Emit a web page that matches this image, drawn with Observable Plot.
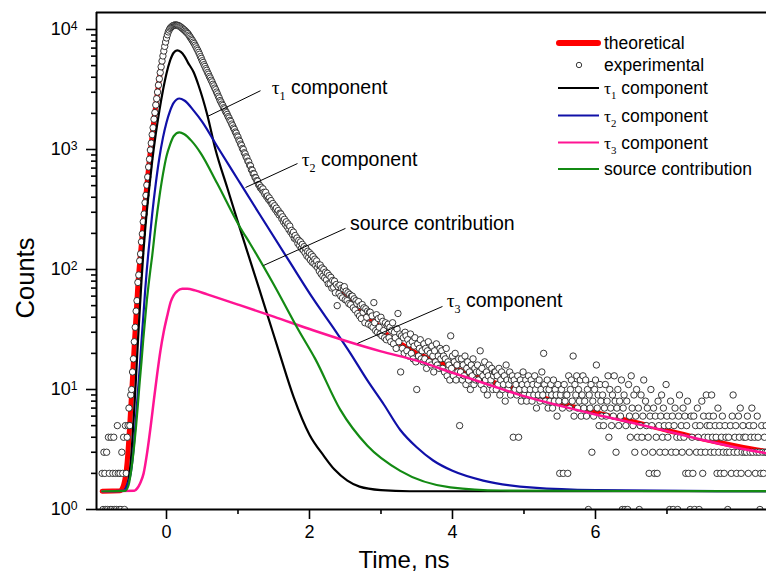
<!DOCTYPE html>
<html><head><meta charset="utf-8">
<script src="https://cdn.jsdelivr.net/npm/d3@7"></script>
<script src="https://cdn.jsdelivr.net/npm/@observablehq/plot@0.6"></script>
<style>
html,body{margin:0;padding:0;background:#fff;}
#chart svg{display:block;}
</style></head><body><div id="chart"></div>
<script>
// ---------- scale / tick data ----------
const xDomain = [-0.979, 8.392];
const yDomain = [1, 13860];
const xMajorTicks = [0, 2, 4, 6];
const xMinorTicks = [1, 3, 5, 7];
const yMajorTicks = [1, 10, 100, 1000, 10000];
const yMinorTicks = [2,3,4,5,6,7,8,9,20,30,40,50,60,70,80,90,200,300,400,500,600,700,800,900,2000,3000,4000,5000,6000,7000,8000,9000];

// ---------- experimental spectrum (counts per channel) ----------
const experimentalStart = -0.9;   // ns, first channel
const channelWidth = 0.0125;      // ns per channel
const experimentalCounts = [
  2,1,3,2,1,3,1,4,2,1,4,1,2,4,1,2,1,5,2,1,
  2,1,3,2,4,1,5,2,4,5,7,5,9,10,14,18,25,33,45,55,
  78,90,118,135,170,198,250,290,360,415,505,590,715,830,990,1130,1330,1520,1790,2030,
  2350,2650,3010,3440,3880,4380,4890,5460,6020,6620,7230,7860,8500,9030,9540,9890,10220,10420,10580,10730,
  10830,10890,10900,10880,10870,10780,10730,10590,10480,10310,10190,10020,9900,9710,9560,9380,9240,8980,8770,8530,
  8310,8100,7860,7650,7400,7170,6910,6700,6450,6220,5950,5740,5490,5310,5090,4920,4720,4570,4380,4240,
  4060,3940,3780,3660,3500,3390,3250,3150,3010,2910,2780,2690,2560,2490,2390,2330,2230,2180,2080,2030,
  1960,1880,1830,1750,1710,1630,1580,1510,1470,1400,1370,1300,1270,1200,1170,1110,1080,1020,1000,940,
  920,870,850,800,790,740,730,680,670,630,625,585,580,550,545,510,505,480,485,460,
  470,440,425,440,405,410,385,395,370,375,350,355,330,340,315,325,300,310,285,295,
  290,265,275,250,262,238,250,228,240,215,230,205,212,195,205,182,192,178,183,165,
  175,158,170,150,162,145,155,138,150,130,142,126,138,120,133,115,128,112,122,108,
  118,104,110,97,109,92,103,88,100,85,95,82,93,76,89,76,86,70,81,71,
  80,64,75,50,72,63,74,60,70,58,69,72,56,66,55,64,52,62,51,60,
  60,48,57,46,55,52,43,54,41,50,39,51,44,48,36,47,40,45,35,44,
  44,34,41,33,53,36,31,42,30,39,33,29,40,28,37,31,27,36,26,34,
  35,27,33,25,31,36,24,30,27,22,32,43,25,29,14,28,22,27,20,30,
  28,21,26,19,24,29,20,25,18,23,27,17,10,24,19,22,26,18,21,17,
  24,18,22,15,21,25,17,20,16,23,19,14,21,17,24,16,19,15,22,18,
  21,15,19,14,18,22,13,17,16,12,28,15,19,13,17,20,12,16,14,18,
  5,14,18,12,16,13,19,11,15,17,12,14,10,16,13,18,11,15,12,14,
  16,12,14,21,11,15,13,10,17,12,14,9,13,16,11,12,15,10,13,14,
  14,10,13,11,15,9,12,14,10,11,13,8,16,12,10,11,14,9,12,13,
  4,12,10,11,9,13,4,10,12,8,11,14,9,10,12,8,11,13,9,10,
  12,8,11,9,13,10,7,11,9,12,8,10,14,9,20,11,8,10,12,7,
  10,8,11,9,7,12,8,10,9,6,11,8,2,9,10,7,2,11,8,9,
  9,2,13,7,10,12,8,19,6,11,9,13,7,10,8,12,6,9,13,7,
  8,12,6,10,1,9,7,11,3,8,6,10,12,16,7,9,5,11,8,6,
  9,5,7,11,6,8,13,4,10,7,5,9,6,13,8,3,7,10,5,8,
  6,12,1,7,9,1,5,8,1,11,6,4,13,7,5,9,3,6,10,4,
  7,1,5,9,4,6,12,3,8,5,7,4,2,6,10,5,3,7,2,6,
  4,2,8,5,3,6,9,4,7,5,3,11,6,4,5,1,8,3,6,1,
  5,7,3,4,1,6,9,4,5,3,7,4,6,2,5,8,2,3,1,6,
  4,2,6,1,5,3,7,4,1,5,3,8,2,6,4,3,9,5,4,6,
  5,3,9,4,6,3,5,4,2,7,3,5,2,4,6,3,2,5,4,3,
  1,4,3,5,2,6,9,3,4,5,2,3,6,4,7,2,3,5,4,3,
  4,3,6,2,5,3,4,7,3,5,4,2,3,6,4,3,1,2,5,3,
  2,4,3,5,3
];

// ---------- fitted curves: [time (ns), counts] ----------
const theoretical = [[-0.9,1.42],[-0.65,1.43],[-0.6,1.6],[-0.55,2.5],[-0.525,4],[-0.5,7],[-0.475,12.6],[-0.45,24],[-0.425,42],[-0.4,75],[-0.375,115],[-0.35,166],[-0.325,245],[-0.3,355],[-0.275,500],[-0.25,710],[-0.225,980],[-0.2,1320],[-0.175,1780],[-0.15,2340],[-0.125,3020],[-0.1,3890],[-0.075,4900],[-0.05,6030],[-0.025,7240],[0,8510],[0.025,9550],[0.05,10230],[0.075,10590],[0.1,10840],[0.125,10910],[0.15,10860],[0.2,10470],[0.25,9890],[0.3,9230],[0.4,7410],[0.5,5500],[0.6,4070],[0.7,3020],[0.8,2240],[0.9,1700],[1.0,1260],[1.1,910],[1.2,660],[1.3,500],[1.4,415],[1.5,340],[1.6,280],[1.7,230],[1.8,185],[1.9,155],[2.0,130],[2.1,111],[2.2,93],[2.3,78],[2.4,69],[2.5,62],[2.6,54],[2.7,47],[2.8,41],[2.9,37],[3.0,32],[3.1,28],[3.3,23.5],[3.5,20],[3.8,17.2],[4.3,13],[4.85,10.2],[5.65,7.3],[6.2,6.0],[6.8,4.9],[7.4,4.0],[8.0,3.35],[8.45,3.0]];
const tau1 = [[-0.9,1.42],[-0.6,1.43],[-0.55,1.6],[-0.5,2.5],[-0.475,4],[-0.45,7],[-0.425,13],[-0.4,25],[-0.375,45],[-0.35,80],[-0.325,135],[-0.3,210],[-0.25,430],[-0.2,800],[-0.15,1350],[-0.1,2100],[-0.05,3100],[0,4300],[0.05,5500],[0.1,6400],[0.15,6700],[0.2,6500],[0.25,6000],[0.3,5300],[0.38,4400],[0.45,3400],[0.57,1950],[0.685,1000],[0.85,480],[0.99,258],[1.13,141],[1.3,68],[1.48,31],[1.57,21],[1.78,8.6],[2.0,4.2],[2.2,2.8],[2.35,2.15],[2.53,1.74],[2.7,1.55],[3.0,1.45],[3.4,1.42],[8.45,1.42]];
const tau2 = [[-0.9,1.42],[-0.6,1.43],[-0.55,1.6],[-0.5,2.0],[-0.475,2.6],[-0.45,3.8],[-0.425,6],[-0.4,9.5],[-0.375,15],[-0.35,25],[-0.325,40],[-0.3,65],[-0.275,100],[-0.25,145],[-0.2,290],[-0.15,520],[-0.1,850],[-0.05,1250],[0,1680],[0.05,2100],[0.1,2450],[0.18,2660],[0.25,2560],[0.38,2110],[0.5,1700],[0.71,1060],[1.0,560],[1.3,290],[1.71,119],[2.06,56],[2.36,31],[2.55,21],[2.81,11.9],[3.04,7.5],[3.27,4.6],[3.5,3.3],[3.73,2.56],[4.0,2.1],[4.43,1.74],[5.13,1.52],[6.0,1.45],[8.45,1.42]];
const tau3 = [[-0.9,1.42],[-0.45,1.43],[-0.41,1.5],[-0.37,1.65],[-0.32,2.0],[-0.27,3.0],[-0.22,5],[-0.175,8.3],[-0.13,13.5],[-0.085,21],[-0.04,30],[0.01,41],[0.06,54],[0.1,61],[0.15,66],[0.22,69],[0.29,69],[0.4,67],[0.57,62],[1.0,51],[1.5,40.5],[2.06,31],[2.5,25.5],[3.0,20.8],[3.5,17.4],[4.0,13.8],[4.5,11],[5.0,8.8],[5.51,7.3],[6.0,6.2],[6.5,5.3],[7.0,4.5],[7.5,3.8],[8.0,3.25],[8.45,2.9]];
const source = [[-0.9,1.42],[-0.58,1.43],[-0.53,1.6],[-0.49,2.2],[-0.45,3.5],[-0.425,5],[-0.4,7.5],[-0.375,11.5],[-0.35,17],[-0.325,26],[-0.3,38],[-0.275,55],[-0.25,75],[-0.225,100],[-0.2,130],[-0.15,240],[-0.1,400],[-0.05,620],[0,880],[0.05,1100],[0.1,1290],[0.18,1390],[0.25,1340],[0.35,1180],[0.48,930],[0.71,520],[1.03,224],[1.17,164],[1.5,75],[1.85,31],[2.08,18],[2.43,6.8],[2.81,3.4],[3.27,2.1],[3.97,1.53],[4.67,1.44],[8.45,1.42]];

// ---------- labels ----------
const seriesNames = ["theoretical", "experimental", "τ1 component", "τ2 component", "τ3 component", "source contribution"];
const seriesColors = ["#ff0000", "#222222", "#000000", "#1010a8", "#ff1493", "#138a13"];
const annotationLabels = ["τ1 component", "τ2 component", "source contribution", "τ3 component"];
const annotationTextAt = [[1.478, 2870], [1.897, 722], [2.573, 211], [3.926, 48]];
const leaderFrom = [[0.573, 1884], [1.105, 482], [1.357, 108], [2.671, 24.2]];
const leaderTo = [[1.315, 3090], [1.832, 764], [2.503, 220], [3.86, 49.2]];
const xLabel = "Time, ns";
const yLabel = "Counts";

// ---------- build ----------
const experimental = experimentalCounts.map((c, i) => ({t: experimentalStart + i * channelWidth, count: c}));
const leaders = leaderFrom.map((f, i) => ({x1: f[0], y1: f[1], x2: leaderTo[i][0], y2: leaderTo[i][1]}));
const FONT = "'Liberation Sans', Arial, Helvetica, sans-serif";
const lineOpts = (color, w) => ({x: d => d[0], y: d => d[1], stroke: color, strokeWidth: w, curve: "monotone-x", clip: true});

const plot = Plot.plot({
  width: 766, height: 577,
  marginLeft: 96, marginRight: 0, marginTop: 12, marginBottom: 68,
  style: {fontFamily: FONT, background: "white", color: "black", fontSize: "18px"},
  x: {domain: xDomain},
  y: {type: "log", domain: yDomain},
  marks: [
    Plot.line(theoretical, lineOpts(seriesColors[0], 5)),
    Plot.dot(experimental, {x: "t", y: "count", r: 3.2, stroke: seriesColors[1], strokeWidth: 0.9, fill: "white", clip: true}),
    Plot.line(tau1, lineOpts(seriesColors[2], 2.2)),
    Plot.line(tau2, lineOpts(seriesColors[3], 2.2)),
    Plot.line(tau3, lineOpts(seriesColors[4], 2.5)),
    Plot.line(source, lineOpts(seriesColors[5], 2.2)),
    Plot.link(leaders, {x1: "x1", y1: "y1", x2: "x2", y2: "y2", stroke: "black", strokeWidth: 1}),
    Plot.ruleX([xDomain[0]], {stroke: "black", strokeWidth: 2}),
    Plot.ruleY([yDomain[0]], {stroke: "black", strokeWidth: 2}),
    Plot.ruleY([yDomain[1]], {stroke: "black", strokeWidth: 2}),
    Plot.axisX(xMajorTicks, {tickSize: 10, tickPadding: 6, fontSize: 18, label: null, strokeWidth: 1.6}),
    Plot.axisX(xMinorTicks, {tickSize: 5, tickFormat: () => "", label: null, strokeWidth: 1.6}),
    Plot.axisY(yMajorTicks, {tickSize: 10, tickPadding: 9, fontSize: 18, label: null, strokeWidth: 1.6,
      tickFormat: d => "10^" + Math.round(Math.log10(d))}),
    Plot.axisY(yMinorTicks, {tickSize: 5, tickFormat: () => "", label: null, strokeWidth: 1.6})
  ]
});
document.getElementById("chart").appendChild(plot);

const svg = d3.select(plot);
// superscript powers of ten
svg.selectAll("text").each(function () {
  const m = this.textContent.match(/^10\^(-?\d+)$/);
  if (m) {
    const t = d3.select(this);
    t.text(null);
    t.append("tspan").text("10");
    t.append("tspan").attr("dy", "-0.42em").attr("font-size", "0.68em").text(m[1]);
  }
});

// writes "τN rest" with a serif τ and subscript digit
function writeLabel(t, label, size) {
  const m = label.match(/^τ(\d)(.*)$/);
  if (!m) { t.text(label); return; }
  t.append("tspan").attr("font-family", "'Liberation Serif', 'Times New Roman', serif").text("τ");
  t.append("tspan").attr("font-family", "'Liberation Serif', 'Times New Roman', serif")
    .attr("font-size", size * 0.62).attr("dy", size * 0.3).text(m[1]);
  t.append("tspan").attr("dy", -size * 0.3).text(m[2]);
}

const sx = plot.scale("x"), sy = plot.scale("y");
const ann = svg.append("g").attr("font-family", FONT).attr("fill", "black").attr("text-anchor", "start");
annotationLabels.forEach((lab, i) => {
  const t = ann.append("text")
    .attr("text-anchor", "start")
    .attr("x", sx.apply(annotationTextAt[i][0]))
    .attr("y", sy.apply(annotationTextAt[i][1]))
    .attr("font-size", 19.5);
  writeLabel(t, lab, 19.5);
});

// legend
const legendRowY = [43, 65, 88, 115.5, 142.5, 169];
const lg = svg.append("g").attr("font-family", FONT).attr("fill", "black").attr("text-anchor", "start");
seriesNames.forEach((name, i) => {
  const y = legendRowY[i];
  if (i === 1) {
    lg.append("circle").attr("cx", 579).attr("cy", y).attr("r", 2.7)
      .attr("fill", "white").attr("stroke", seriesColors[1]).attr("stroke-width", 0.9);
  } else {
    lg.append("line").attr("x1", i === 0 ? 559 : 558).attr("x2", i === 0 ? 598 : 599)
      .attr("y1", y).attr("y2", y).attr("stroke", seriesColors[i])
      .attr("stroke-width", i === 0 ? 6 : 2.2).attr("stroke-linecap", i === 0 ? "round" : "butt");
  }
  const t = lg.append("text").attr("text-anchor", "start").attr("x", 604).attr("y", y).attr("dy", "0.35em").attr("font-size", 17.5);
  writeLabel(t, name, 17.5);
});

// axis titles
svg.append("text").attr("x", 404).attr("y", 568).attr("text-anchor", "middle")
  .attr("font-family", FONT).attr("font-size", 24).attr("fill", "black").text(xLabel);
svg.append("text").attr("transform", "translate(34,278) rotate(-90)").attr("text-anchor", "middle")
  .attr("font-family", FONT).attr("font-size", 25.5).attr("fill", "black").text(yLabel);
</script>
</body></html>
